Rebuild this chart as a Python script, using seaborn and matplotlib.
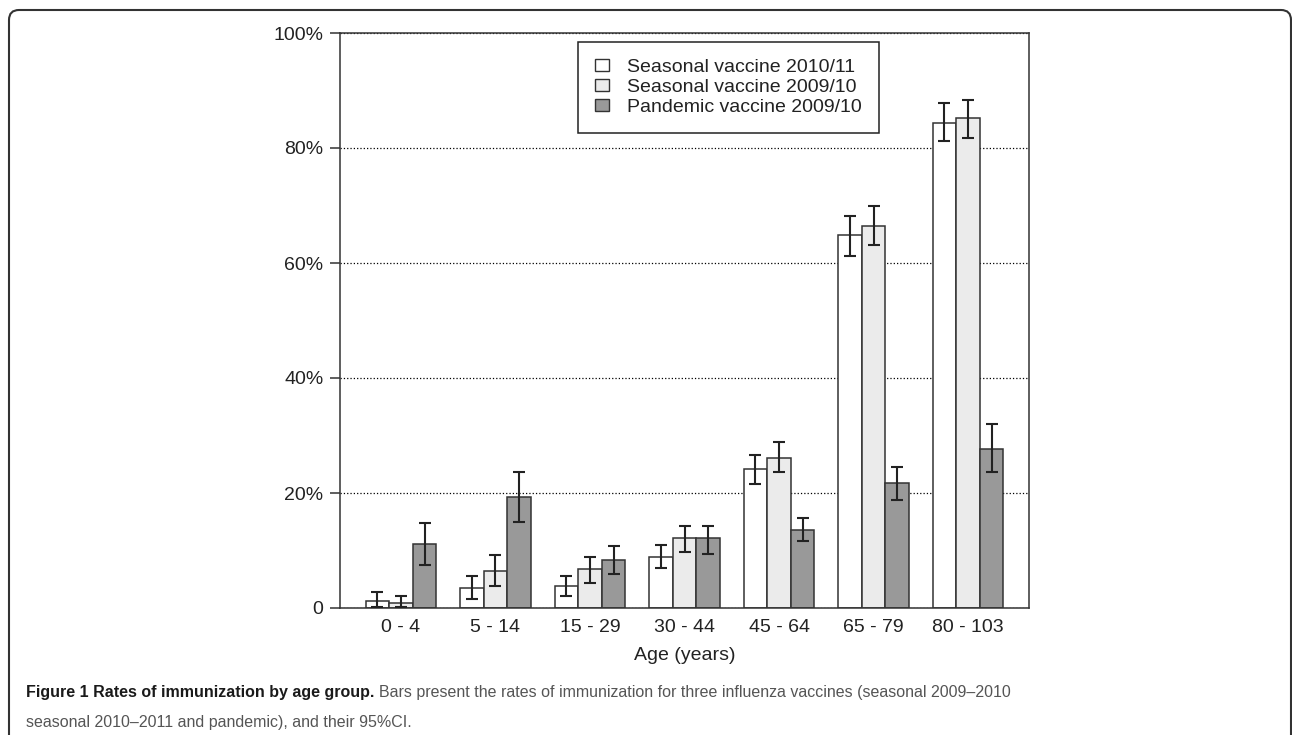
import numpy as np
import pandas as pd
import matplotlib.pyplot as plt
import seaborn as sns
from matplotlib.patches import FancyBboxPatch, Patch

# age groups and vaccine series (rates in %)
age_groups = ['0 - 4', '5 - 14', '15 - 29', '30 - 44', '45 - 64', '65 - 79', '80 - 103']
vaccines = ['Seasonal vaccine 2010/11', 'Seasonal vaccine 2009/10', 'Pandemic vaccine 2009/10']

seasonal_1011 = [1.3, 3.5, 3.9, 8.8, 24.2, 64.8, 84.4]
seasonal_1011_lo = [0.1, 1.5, 2.1, 6.9, 21.6, 61.3, 81.2]
seasonal_1011_hi = [2.8, 5.6, 5.6, 11.0, 26.6, 68.2, 87.8]

seasonal_0910 = [0.9, 6.5, 6.7, 12.1, 26.1, 66.4, 85.2]
seasonal_0910_lo = [0.1, 3.9, 4.3, 9.7, 23.6, 63.2, 81.8]
seasonal_0910_hi = [2.1, 9.2, 8.8, 14.3, 28.8, 69.9, 88.4]

pandemic_0910 = [11.2, 19.3, 8.3, 12.1, 13.6, 21.7, 27.7]
pandemic_0910_lo = [7.5, 15.0, 5.9, 9.4, 11.6, 18.7, 23.6]
pandemic_0910_hi = [14.8, 23.6, 10.7, 14.3, 15.7, 24.5, 32.0]

colors = ['#ffffff', '#ebebeb', '#999999']

df = pd.DataFrame({
    'age': age_groups * 3,
    'vaccine': np.repeat(vaccines, len(age_groups)),
    'rate': seasonal_1011 + seasonal_0910 + pandemic_0910,
})

sns.set_theme(style='white')
plt.rcParams['font.family'] = ['Liberation Sans', 'DejaVu Sans']

fig = plt.figure(figsize=(12.92, 7.35), dpi=100)
ax = fig.add_axes([340 / 1292, 1 - 608 / 735, 689 / 1292, 575 / 735])

sns.barplot(data=df, x='age', y='rate', hue='vaccine', order=age_groups,
            hue_order=vaccines, palette=colors, saturation=1, width=0.75,
            edgecolor='#333333', linewidth=1.1, errorbar=None, legend=False,
            ax=ax, zorder=2)

# 95% CI error bars on top of each bar
series = [(seasonal_1011, seasonal_1011_lo, seasonal_1011_hi),
          (seasonal_0910, seasonal_0910_lo, seasonal_0910_hi),
          (pandemic_0910, pandemic_0910_lo, pandemic_0910_hi)]
for cont, (vals, lo, hi) in zip(ax.containers, series):
    xs = [b.get_x() + b.get_width() / 2 for b in cont]
    vals = np.array(vals)
    yerr = [vals - np.array(lo), np.array(hi) - vals]
    ax.errorbar(xs, vals, yerr=yerr, fmt='none', ecolor='#222222',
                elinewidth=1.5, capsize=4.3, capthick=1.5, zorder=3)

ax.set_xlim(-0.645, len(age_groups) - 1 + 0.645)
ax.set_ylim(0, 100)
ax.set_yticks([0, 20, 40, 60, 80, 100])
ax.set_yticklabels(['0', '20%', '40%', '60%', '80%', '100%'])
ax.set_axisbelow(True)
ax.yaxis.grid(True, linestyle=':', linewidth=0.9, color='black')
ax.xaxis.grid(False)

for s in ax.spines.values():
    s.set_visible(True)
    s.set_color('#333333')
    s.set_linewidth(1.1)

ax.tick_params(axis='y', left=True, length=7, width=1.1, color='#333333',
               pad=5, labelsize=14, labelcolor='#222222', direction='out')
ax.tick_params(axis='x', bottom=False, length=0, pad=8, labelsize=14,
               labelcolor='#222222')
ax.set_xlabel('Age (years)', fontsize=14, color='#222222', labelpad=8)
ax.set_ylabel('')

handles = [Patch(facecolor=c, edgecolor='#333333', linewidth=1.0) for c in colors]
leg = ax.legend(handles, vaccines, loc='upper left', bbox_to_anchor=(0.3454, 0.9843),
                borderaxespad=0, fontsize=14, frameon=True, fancybox=False,
                framealpha=1, edgecolor='#222222', handlelength=0.7,
                handleheight=0.55, handletextpad=0.95, borderpad=0.88,
                labelspacing=0.14)
leg.get_frame().set_linewidth(1.1)
for t in leg.get_texts():
    t.set_color('#222222')

# rounded frame around the whole figure
frame = FancyBboxPatch((9, -30), 1282, 755, boxstyle='round,pad=0,rounding_size=10',
                       transform=None, facecolor='none', edgecolor='#333333',
                       linewidth=1.5)
fig.add_artist(frame)

# caption
cap_font = ['Liberation Sans', 'DejaVu Sans']
t1 = fig.text(26 / 1292, 1 - 697 / 735, 'Figure 1 Rates of immunization by age group.',
              fontsize=11.5, fontweight='bold', color='#1a1a1a', family=cap_font,
              va='baseline')
ax.annotate('Bars present the rates of immunization for three influenza vaccines '
            '(seasonal 2009\u20132010', xy=(1, 0), xycoords=t1, xytext=(3, 0),
            textcoords='offset points', va='bottom', fontsize=11.5, color='#555555',
            family=cap_font, annotation_clip=False)
fig.text(26 / 1292, 1 - 727 / 735, 'seasonal 2010\u20132011 and pandemic), and their 95%CI.',
         fontsize=11.5, color='#555555', family=cap_font, va='baseline')

fig.savefig('out.png', dpi=100)
